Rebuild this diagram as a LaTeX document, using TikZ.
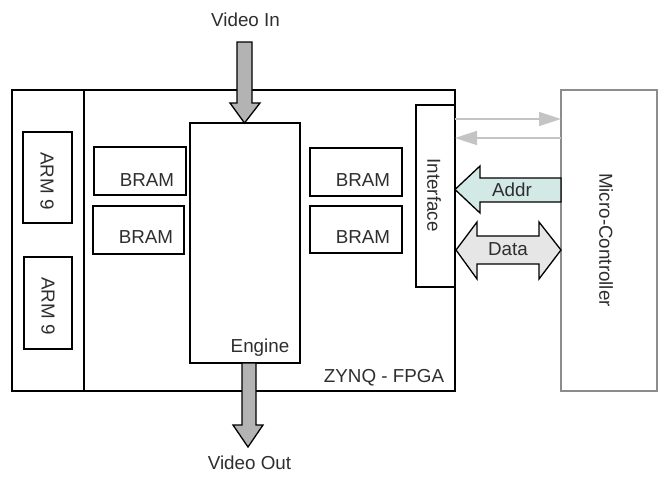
\documentclass[tikz,border=0pt]{standalone}
\usepackage{fontspec}
\setmainfont{Liberation Sans}
\usetikzlibrary{arrows.meta}
\definecolor{txt}{HTML}{2E2E2E}
\definecolor{addrfill}{HTML}{D3E9E5}
\definecolor{datafill}{HTML}{E6E6E6}
\definecolor{vidfill}{HTML}{B3B3B3}
\definecolor{mcgray}{HTML}{8C8C8C}
\definecolor{lgray}{HTML}{C4C4C4}
\begin{document}
\begin{tikzpicture}[x=1pt,y=-1pt,
  box/.style={draw=black,line width=1.3pt},
  lbl/.style={text=txt,font=\fontsize{18.8}{21}\selectfont,inner sep=0pt},
  blk/.style={draw=black,line width=1.3pt,line join=miter}]
\useasboundingbox (0,0) rectangle (665,479);
% FPGA outer
\draw[box] (12,90) rectangle (455,391);
\draw[box] (84,90) -- (84,391);
% ARM boxes
\draw[box] (23,132) rectangle (72,223);
\draw[box] (24,257) rectangle (72,349);
\node[lbl,rotate=-90] (arm1) at (47,181) {ARM 9};
\node[lbl,rotate=-90] (arm2) at (48,306) {ARM 9};
% BRAMs
\draw[box] (94,147) rectangle (186,195);
\draw[box] (93,206) rectangle (184,254);
\draw[box] (310,148) rectangle (402,196);
\draw[box] (310,206) rectangle (402,253);
\node[lbl] (b1) at (147,180) {BRAM};
\node[lbl] (b2) at (146,237) {BRAM};
\node[lbl] (b3) at (363,180) {BRAM};
\node[lbl] (b4) at (363,237) {BRAM};
% Engine
\draw[box] (190,123) rectangle (300,363);
\node[lbl] (eng) at (260,348) {Engine};
% Interface
\draw[box] (416,105) rectangle (455,287);
\node[lbl,rotate=-90] (intf) at (434,195) {Interface};
\node[lbl] (zynq) at (384,378) {ZYNQ - FPGA};
% Micro-Controller
\draw[draw=mcgray,line width=1.5pt] (561,90) rectangle (657,391);
\node[lbl,rotate=-90] (mc) at (606,240) {Micro-Controller};
% thin gray arrows
\coordinate (t1) at (455,119);
\coordinate (t2) at (561,119);
\coordinate (u1) at (561,138);
\coordinate (u2) at (455,138);
\draw[draw=lgray,line width=1.6pt,-{Triangle[length=22pt,width=14pt]}] (t1) -- (t2);
\draw[draw=lgray,line width=1.6pt,-{Triangle[length=22pt,width=14pt]}] (u1) -- (u2);
% Addr arrow
\filldraw[blk,fill=addrfill] (561,178) -- (480,178) -- (480,166) -- (455,189.5) -- (480,213) -- (480,202) -- (561,202) -- cycle;
\node[lbl] (addr) at (512,190) {Addr};
% Data arrow
\filldraw[blk,fill=datafill] (477,236) -- (477,222) -- (456,250) -- (477,279) -- (477,264) -- (539,264) -- (539,279) -- (561,250) -- (539,222) -- (539,236) -- cycle;
\node[lbl] (data) at (508,249) {Data};
% Video In
\node[lbl] (vin) at (245.5,20) {Video In};
\filldraw[blk,fill=vidfill] (237,42) -- (252,42) -- (252,103) -- (260,103) -- (244.5,123) -- (230,103) -- (237,103) -- cycle;
% Video Out
\filldraw[blk,fill=vidfill] (242,363) -- (256,363) -- (256,425) -- (263,425) -- (248,447) -- (233,425) -- (242,425) -- cycle;
\node[lbl] (vout) at (249.5,463) {Video Out};
\end{tikzpicture}
\end{document}
